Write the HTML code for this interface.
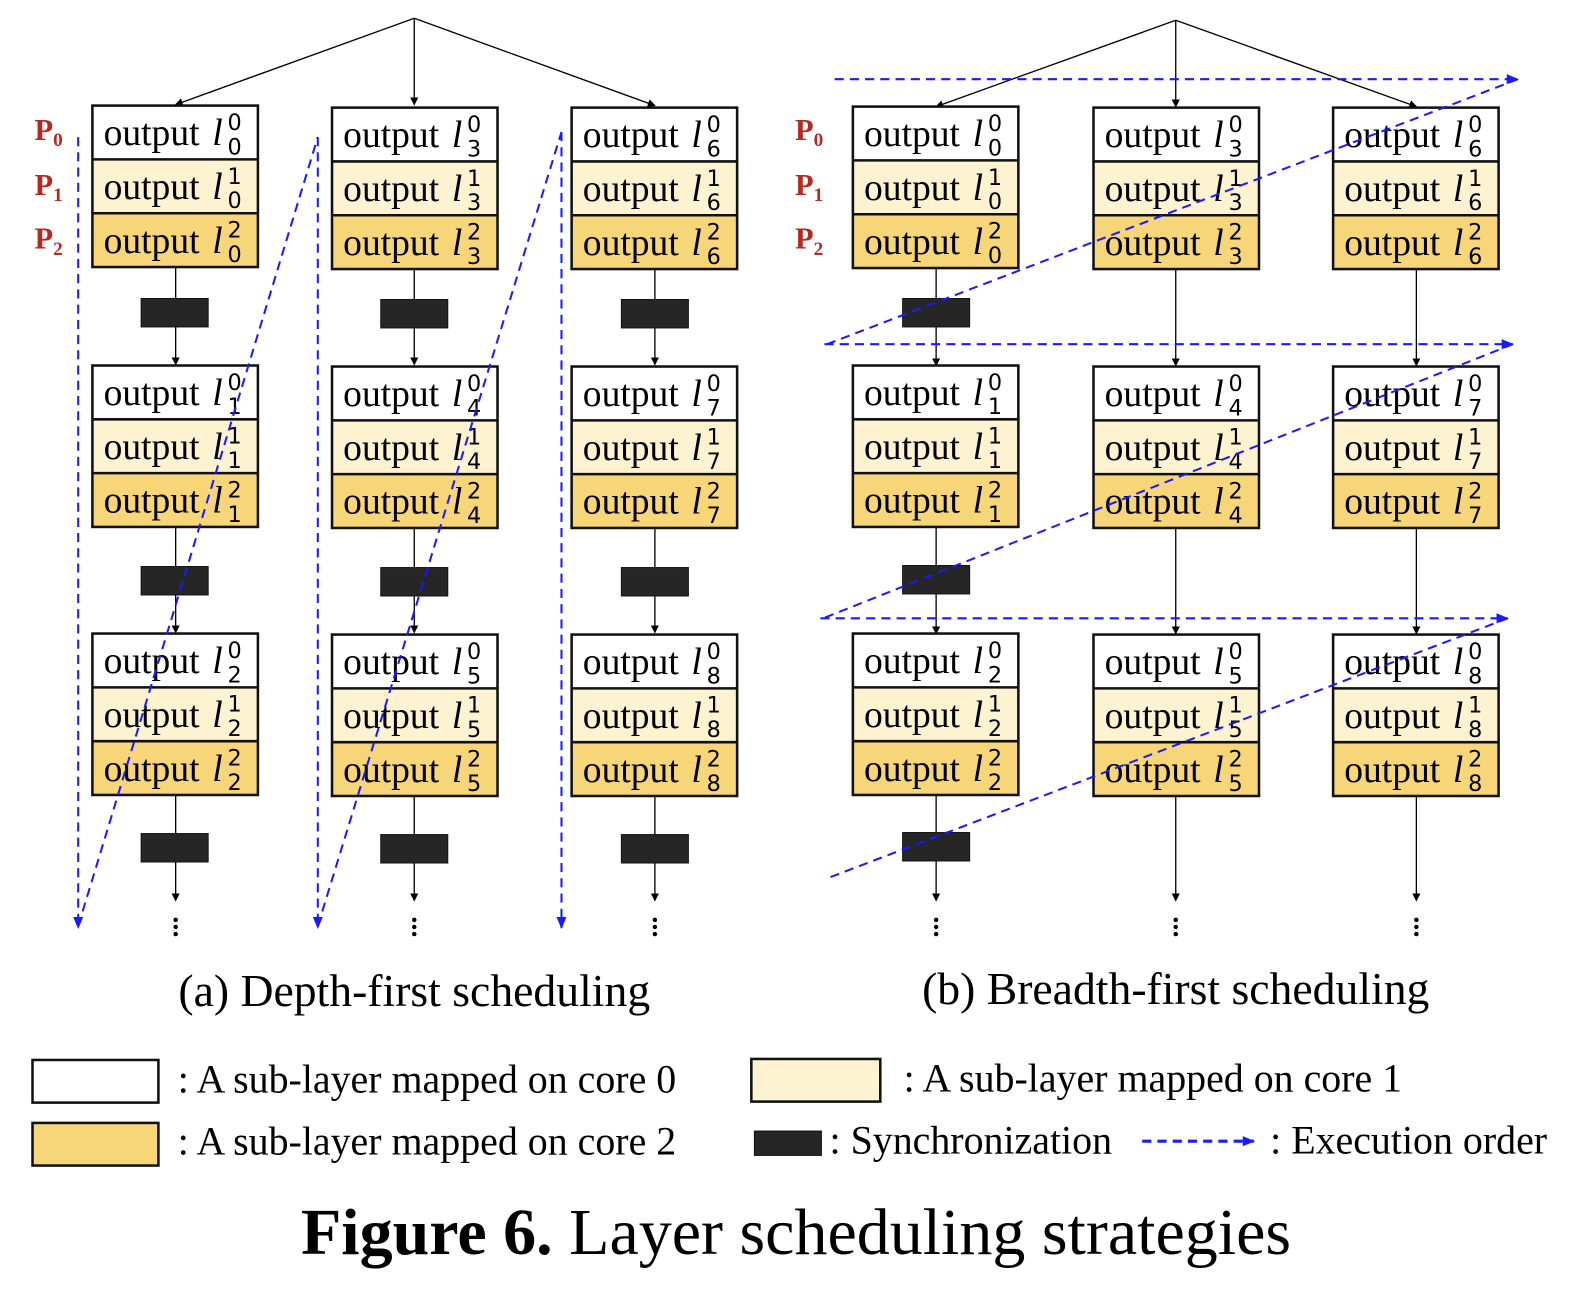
<!DOCTYPE html>
<html><head><meta charset="utf-8"><style>
html,body{margin:0;padding:0;background:#fff;width:1590px;height:1294px;overflow:hidden}
svg{display:block}
.o{font-family:"Liberation Serif",serif;font-size:37px;fill:#000}
.l{font-family:"Liberation Serif",serif;font-style:italic;font-size:37px}
.s{font-family:"DejaVu Sans",sans-serif;font-size:22px}
.p{font-family:"Liberation Serif",serif;font-weight:bold;font-size:30px;fill:#b22a22}
.ps{font-size:19px}
.cap{font-family:"Liberation Serif",serif;font-size:45px}
.lg{font-family:"Liberation Serif",serif;font-size:39.3px}
.t{font-family:"Liberation Serif",serif;font-size:65px}
</style></head><body>
<svg width="1590" height="1294" viewBox="0 0 1566 1274.5" xmlns="http://www.w3.org/2000/svg">
<defs>
<marker id="a" markerWidth="8" markerHeight="8" refX="7" refY="4" orient="auto" markerUnits="userSpaceOnUse"><path d="M0,0 L8,4 L0,8 z" fill="#000"/></marker>
<marker id="b" markerWidth="12" markerHeight="10" refX="11" refY="5" orient="auto" markerUnits="userSpaceOnUse"><path d="M0,0 L12,5 L0,10 z" fill="#1a1aff"/></marker>
<g id="cells">
<rect x="0" y="0" width="163" height="53" fill="#fff"/>
<rect x="0" y="53" width="163" height="53" fill="#fdf3d1"/>
<rect x="0" y="106" width="163" height="53" fill="#f6d679"/>
<rect x="0" y="0" width="163" height="159" fill="none" stroke="#111" stroke-width="2.5"/>
<line x1="0" y1="53" x2="163" y2="53" stroke="#111" stroke-width="2.5"/>
<line x1="0" y1="106" x2="163" y2="106" stroke="#111" stroke-width="2.5"/>
<text class="o" x="11" y="39">output</text>
<text class="o" x="11" y="92">output</text>
<text class="o" x="11" y="145">output</text>
<text class="l" x="118" y="39">l</text>
<text class="l" x="118" y="92">l</text>
<text class="l" x="118" y="145">l</text>
<text class="s" x="133" y="24">0</text>
<text class="s" x="133" y="77">1</text>
<text class="s" x="133" y="130">2</text>
</g>
</defs>

<g stroke="#000" stroke-width="1.3" fill="none">
<line x1="408" y1="18" x2="173" y2="103" marker-end="url(#a)"/>
<line x1="408" y1="18" x2="408" y2="103" marker-end="url(#a)"/>
<line x1="408" y1="18" x2="645" y2="104" marker-end="url(#a)"/>
<line x1="173" y1="263" x2="173" y2="359" marker-end="url(#a)"/>
<line x1="173" y1="518" x2="173" y2="623" marker-end="url(#a)"/>
<line x1="173" y1="782" x2="173" y2="887" marker-end="url(#a)"/>
<line x1="408" y1="263" x2="408" y2="359" marker-end="url(#a)"/>
<line x1="408" y1="518" x2="408" y2="623" marker-end="url(#a)"/>
<line x1="408" y1="782" x2="408" y2="887" marker-end="url(#a)"/>
<line x1="645" y1="263" x2="645" y2="359" marker-end="url(#a)"/>
<line x1="645" y1="518" x2="645" y2="623" marker-end="url(#a)"/>
<line x1="645" y1="782" x2="645" y2="887" marker-end="url(#a)"/>
</g>
<g fill="#262626" stroke="#111" stroke-width="1">
<rect x="139" y="294" width="66" height="28"/><rect x="139" y="558" width="66" height="28"/><rect x="139" y="821" width="66" height="28"/>
<rect x="375" y="295" width="66" height="28"/><rect x="375" y="559" width="66" height="28"/><rect x="375" y="822" width="66" height="28"/>
<rect x="612" y="295" width="66" height="28"/><rect x="612" y="559" width="66" height="28"/><rect x="612" y="822" width="66" height="28"/>
</g>
<use href="#cells" x="91" y="104"/><use href="#cells" x="327" y="106"/><use href="#cells" x="563" y="106"/>
<use href="#cells" x="91" y="360"/><use href="#cells" x="327" y="361"/><use href="#cells" x="563" y="361"/>
<use href="#cells" x="91" y="624"/><use href="#cells" x="327" y="625"/><use href="#cells" x="563" y="625"/>
<g class="s">
<text x="224" y="152">0</text><text x="224" y="205">0</text><text x="224" y="258">0</text>
<text x="460" y="154">3</text><text x="460" y="207">3</text><text x="460" y="260">3</text>
<text x="696" y="154">6</text><text x="696" y="207">6</text><text x="696" y="260">6</text>
<text x="224" y="408">1</text><text x="224" y="461">1</text><text x="224" y="514">1</text>
<text x="460" y="409">4</text><text x="460" y="462">4</text><text x="460" y="515">4</text>
<text x="696" y="409">7</text><text x="696" y="462">7</text><text x="696" y="515">7</text>
<text x="224" y="672">2</text><text x="224" y="725">2</text><text x="224" y="778">2</text>
<text x="460" y="673">5</text><text x="460" y="726">5</text><text x="460" y="779">5</text>
<text x="696" y="673">8</text><text x="696" y="726">8</text><text x="696" y="779">8</text>
</g>
<text class="p" x="34" y="138">P<tspan class="ps" dy="6">0</tspan></text>
<text class="p" x="34" y="192">P<tspan class="ps" dy="6">1</tspan></text>
<text class="p" x="34" y="245">P<tspan class="ps" dy="6">2</tspan></text>
<g stroke="#1a1aff" stroke-width="2" stroke-dasharray="9,6" fill="none">
<line x1="77" y1="135" x2="77" y2="914" marker-end="url(#b)"/>
<line x1="77" y1="912" x2="313" y2="135"/>
<line x1="313" y1="135" x2="313" y2="914" marker-end="url(#b)"/>
<line x1="313" y1="912" x2="553" y2="130"/>
<line x1="553" y1="130" x2="553" y2="914" marker-end="url(#b)"/>
</g>

<g stroke="#000" stroke-width="1.3" fill="none">
<line x1="1158" y1="20" x2="922" y2="105" marker-end="url(#a)"/>
<line x1="1158" y1="20" x2="1158" y2="105" marker-end="url(#a)"/>
<line x1="1158" y1="20" x2="1395" y2="105" marker-end="url(#a)"/>
<line x1="922" y1="264" x2="922" y2="360" marker-end="url(#a)"/>
<line x1="922" y1="519" x2="922" y2="624" marker-end="url(#a)"/>
<line x1="922" y1="783" x2="922" y2="887" marker-end="url(#a)"/>
<line x1="1158" y1="264" x2="1158" y2="360" marker-end="url(#a)"/>
<line x1="1158" y1="519" x2="1158" y2="624" marker-end="url(#a)"/>
<line x1="1158" y1="783" x2="1158" y2="887" marker-end="url(#a)"/>
<line x1="1395" y1="264" x2="1395" y2="360" marker-end="url(#a)"/>
<line x1="1395" y1="519" x2="1395" y2="624" marker-end="url(#a)"/>
<line x1="1395" y1="783" x2="1395" y2="887" marker-end="url(#a)"/>
</g>
<g fill="#262626" stroke="#111" stroke-width="1">
<rect x="889" y="294" width="66" height="28"/><rect x="889" y="557" width="66" height="28"/><rect x="889" y="820" width="66" height="28"/>
</g>
<use href="#cells" x="840" y="105"/><use href="#cells" x="1077" y="106"/><use href="#cells" x="1313" y="106"/>
<use href="#cells" x="840" y="360"/><use href="#cells" x="1077" y="361"/><use href="#cells" x="1313" y="361"/>
<use href="#cells" x="840" y="624"/><use href="#cells" x="1077" y="625"/><use href="#cells" x="1313" y="625"/>
<g class="s">
<text x="973" y="153">0</text><text x="973" y="206">0</text><text x="973" y="259">0</text>
<text x="1210" y="154">3</text><text x="1210" y="207">3</text><text x="1210" y="260">3</text>
<text x="1446" y="154">6</text><text x="1446" y="207">6</text><text x="1446" y="260">6</text>
<text x="973" y="408">1</text><text x="973" y="461">1</text><text x="973" y="514">1</text>
<text x="1210" y="409">4</text><text x="1210" y="462">4</text><text x="1210" y="515">4</text>
<text x="1446" y="409">7</text><text x="1446" y="462">7</text><text x="1446" y="515">7</text>
<text x="973" y="672">2</text><text x="973" y="725">2</text><text x="973" y="778">2</text>
<text x="1210" y="673">5</text><text x="1210" y="726">5</text><text x="1210" y="779">5</text>
<text x="1446" y="673">8</text><text x="1446" y="726">8</text><text x="1446" y="779">8</text>
</g>
<text class="p" x="783" y="138">P<tspan class="ps" dy="6">0</tspan></text>
<text class="p" x="783" y="192">P<tspan class="ps" dy="6">1</tspan></text>
<text class="p" x="783" y="245">P<tspan class="ps" dy="6">2</tspan></text>
<g stroke="#1a1aff" stroke-width="2" stroke-dasharray="9,6" fill="none">
<line x1="822" y1="78" x2="1495" y2="78" marker-end="url(#b)"/>
<line x1="1495" y1="78" x2="812" y2="340"/>
<line x1="812" y1="339" x2="1490" y2="339" marker-end="url(#b)"/>
<line x1="1490" y1="339" x2="808" y2="610"/>
<line x1="808" y1="609" x2="1485" y2="609" marker-end="url(#b)"/>
<line x1="1485" y1="609" x2="815" y2="865"/>
</g>

<g fill="#000">
<circle cx="173" cy="906" r="2.2"/><circle cx="173" cy="913" r="2.2"/><circle cx="173" cy="920" r="2.2"/>
<circle cx="408" cy="906" r="2.2"/><circle cx="408" cy="913" r="2.2"/><circle cx="408" cy="920" r="2.2"/>
<circle cx="645" cy="906" r="2.2"/><circle cx="645" cy="913" r="2.2"/><circle cx="645" cy="920" r="2.2"/>
<circle cx="922" cy="906" r="2.2"/><circle cx="922" cy="913" r="2.2"/><circle cx="922" cy="920" r="2.2"/>
<circle cx="1158" cy="906" r="2.2"/><circle cx="1158" cy="913" r="2.2"/><circle cx="1158" cy="920" r="2.2"/>
<circle cx="1395" cy="906" r="2.2"/><circle cx="1395" cy="913" r="2.2"/><circle cx="1395" cy="920" r="2.2"/>
</g>

<text class="cap" x="408" y="991" text-anchor="middle">(a) Depth-first scheduling</text>
<text class="cap" x="1158" y="989" text-anchor="middle">(b) Breadth-first scheduling</text>

<rect x="32" y="1044" width="124" height="42" fill="#fff" stroke="#111" stroke-width="2.5"/>
<text class="lg" x="175" y="1076">: A sub-layer mapped on core 0</text>
<rect x="740" y="1043" width="127" height="42" fill="#fdf3d1" stroke="#111" stroke-width="2.5"/>
<text class="lg" x="890" y="1075">: A sub-layer mapped on core 1</text>
<rect x="32" y="1106" width="124" height="42" fill="#f6d679" stroke="#111" stroke-width="2.5"/>
<text class="lg" x="175" y="1137">: A sub-layer mapped on core 2</text>
<rect x="743" y="1114" width="66" height="24" fill="#262626" stroke="#111"/>
<text class="lg" x="817" y="1136">: Synchronization</text>
<line x1="1125" y1="1124" x2="1235" y2="1124" stroke="#1a1aff" stroke-width="3" stroke-dasharray="9,6" marker-end="url(#b)"/>
<text class="lg" x="1251" y="1136">: Execution order</text>

<text class="t" x="784" y="1235" text-anchor="middle"><tspan font-weight="bold">Figure 6.</tspan> Layer scheduling strategies</text>
</svg>
</body></html>
